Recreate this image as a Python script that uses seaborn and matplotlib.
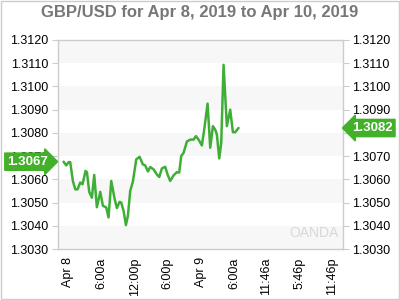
import matplotlib
matplotlib.use("Agg")
import matplotlib.pyplot as plt
import matplotlib.transforms as mtransforms
from matplotlib.patches import Rectangle
import seaborn as sns
import pandas as pd

# hours since Apr 8, 2019 00:00
hours = [-0.84, -0.36, 0.06, 0.36, 0.84, 1.27, 1.69, 2.17, 2.59, 3.13, 3.38, 3.80,
         4.28, 4.70, 5.18, 5.79, 6.27, 6.87, 7.29, 7.78, 8.38, 8.80, 9.28, 9.58,
         10.01, 10.43, 10.79, 11.21, 11.69, 12.30, 12.90, 13.50, 13.92, 14.41, 14.83,
         15.43, 16.03, 16.46, 16.94, 17.54, 17.96, 18.44, 19.05, 19.65, 20.07, 20.43,
         20.86, 21.46, 22.06, 22.66, 23.09, 23.57, 24.17, 24.59, 25.20, 25.68, 26.16,
         26.58, 26.88, 27.31, 27.67, 28.09, 28.69, 29.29, 29.78, 30.20, 30.80]
prices = [1.30676, 1.30660, 1.30674, 1.30674, 1.30593, 1.30557, 1.30557, 1.30586,
          1.30579, 1.30636, 1.30631, 1.30546, 1.30521, 1.30619, 1.30480, 1.30546,
          1.30486, 1.30479, 1.30436, 1.30593, 1.30517, 1.30476, 1.30503, 1.30500,
          1.30464, 1.30403, 1.30443, 1.30550, 1.30590, 1.30686, 1.30697, 1.30664,
          1.30660, 1.30634, 1.30653, 1.30643, 1.30621, 1.30610, 1.30647, 1.30654,
          1.30621, 1.30593, 1.30617, 1.30631, 1.30629, 1.30700, 1.30714, 1.30763,
          1.30771, 1.30771, 1.30786, 1.30771, 1.30746, 1.30814, 1.30926, 1.30736,
          1.30829, 1.30814, 1.30793, 1.30690, 1.30757, 1.31093, 1.30829, 1.30900,
          1.30803, 1.30803, 1.30821]

tick_hours = [0, 6, 12, 18, 24, 30, 35.77, 41.77, 47.77]
tick_labels = ["Apr 8", "6:00a", "12:00p", "6:00p", "Apr 9", "6:00a", "11:46a", "5:46p", "11:46p"]
y_ticks = [1.3030, 1.3040, 1.3050, 1.3060, 1.3070, 1.3080, 1.3090, 1.3100, 1.3110, 1.3120]

title = "GBP/USD for Apr 8, 2019 to Apr 10, 2019"
open_label = "1.3067"
last_label = "1.3082"
open_value = 1.30676
last_value = 1.30821

sns.set_theme(style="white")
plt.rcParams["font.family"] = ["Liberation Sans", "DejaVu Sans"]

green = "#3fae37"
badge = "#43b02a"
grid_gray = "#cccccc"

fig = plt.figure(figsize=(4, 3), dpi=100)
ax = fig.add_axes([58 / 400, 1 - 249 / 300, (342.5 - 58) / 400, (249 - 40) / 300])

df = pd.DataFrame({"hours": hours, "price": prices})

# alternating bands
for i in range(0, len(y_ticks) - 1, 2):
    ax.axhspan(y_ticks[i], y_ticks[i + 1], color="#f7f7f7", lw=0, zorder=0)

sns.lineplot(data=df, x="hours", y="price", ax=ax, color=green, lw=1.8, zorder=3)

ax.set_xlim(-1.85, 49.6)
ax.set_ylim(1.3030, 1.3120)
ax.set_xticks(tick_hours)
ax.set_xticklabels(tick_labels, rotation=90, fontsize=9, color="black")
ax.set_yticks(y_ticks)
ax.set_yticklabels([f"{v:.4f}" for v in y_ticks], fontsize=9, color="black")
ax.tick_params(axis="y", which="both", left=True, right=True, labelleft=True, labelright=True,
               length=4, width=0.8, color=grid_gray, pad=3)
ax.tick_params(axis="x", length=4, width=0.8, color=grid_gray, pad=2)
ax.set_xlabel("")
ax.set_ylabel("")
for s in ax.spines.values():
    s.set_visible(True)
    s.set_color(grid_gray)
    s.set_linewidth(1)

fig.text(0.5, 1 - 13 / 300, title, ha="center", va="center", fontsize=12,
         fontweight="bold", color="#777777")

trans = mtransforms.blended_transform_factory(ax.transAxes, ax.transData)
ax.text(-0.106, open_value, open_label, transform=trans, ha="center", va="center",
        fontsize=9.5, color="white", fontweight="bold", zorder=6,
        bbox=dict(boxstyle="rarrow,pad=0.2", fc=badge, ec=badge), clip_on=False)
ax.text(1.104, last_value, last_label, transform=trans, ha="center", va="center",
        fontsize=9.5, color="white", fontweight="bold", zorder=6,
        bbox=dict(boxstyle="larrow,pad=0.2", fc=badge, ec=badge), clip_on=False)

ax.text(0.985, 0.045, "OANDA", transform=ax.transAxes, ha="right", va="bottom",
        fontsize=10, color="#d8d8d8", zorder=1)

fig.patches.append(Rectangle((0.002, 0.003), 0.995, 0.994, transform=fig.transFigure,
                             fill=False, edgecolor="#cccccc", lw=1))

fig.savefig("out.png", dpi=100)
